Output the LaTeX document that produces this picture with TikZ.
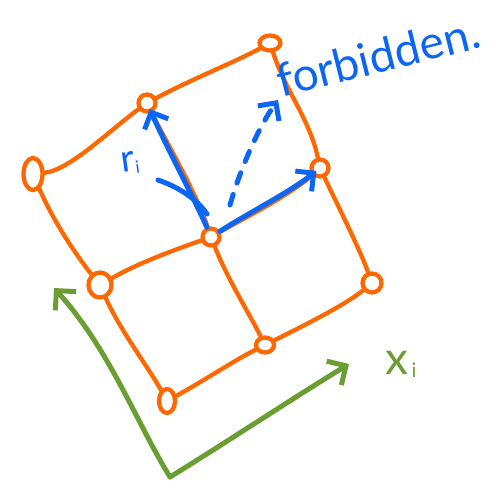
\documentclass[tikz,border=0pt]{standalone}
\usepackage{fontspec}
\setmainfont{Lato}
\usetikzlibrary{shapes.geometric,arrows.meta}
\definecolor{orng}{RGB}{255,104,0}
\definecolor{blu}{RGB}{12,102,245}
\definecolor{grn}{RGB}{106,158,50}
\begin{document}
\begin{tikzpicture}[x=1pt,y=-1pt,line cap=round,line join=round,
  site/.style={draw=orng,line width=4.3pt,ellipse,inner sep=0pt,minimum width=17pt,minimum height=17pt},
  bond/.style={draw=orng,line width=4.3pt},
  vec/.style={draw=blu,line width=5pt,-{Straight Barb[length=13pt,width=26pt]}},
  axis/.style={draw=grn,line width=5pt,-{Straight Barb[length=14pt,width=28pt]}},
  lbl/.style={inner sep=0pt}]
\useasboundingbox (0,0) rectangle (500,498);
% sites
\node[site,minimum width=19pt,minimum height=32pt] (A) at (33,174) {};
\node[site] (B) at (147,103) {};
\node[site,minimum width=21pt,minimum height=15pt] (C) at (270,43) {};
\node[site] (D) at (320,168) {};
\node[site] (E) at (211,237) {};
\node[site,minimum width=23pt,minimum height=25pt] (F) at (100,285) {};
\node[site,minimum width=19pt,minimum height=19pt] (G) at (372,283) {};
\node[site,minimum width=18pt,minimum height=15pt] (H) at (265,345) {};
\node[site,minimum width=16pt,minimum height=24pt] (I) at (167,401) {};
% bonds
\draw[bond] (A) .. controls (70,170) and (110,130) .. (B);
\draw[bond] (B) .. controls (190,80) and (235,62) .. (C);
\draw[bond] (A) .. controls (55,225) and (80,260) .. (F);
\draw[bond] (F) .. controls (140,262) and (180,248) .. (E);
\draw[bond] (E) .. controls (250,215) and (290,195) .. (D);
\draw[bond] (B) .. controls (165,140) and (195,190) .. (E);
\draw[bond] (C) .. controls (285,90) and (310,120) .. (D);
\draw[bond] (F) .. controls (120,330) and (150,370) .. (I);
\draw[bond] (E) .. controls (228,280) and (250,315) .. (H);
\draw[bond] (D) .. controls (340,210) and (360,250) .. (G);
\draw[bond] (I) .. controls (205,380) and (235,360) .. (H);
\draw[bond] (H) .. controls (305,325) and (345,305) .. (G);
% blue vectors
\draw[vec,shorten >=-4pt] (E) .. controls (195,200) and (168,150) .. (B);
\draw[vec,shorten >=-6pt] (E) .. controls (250,212) and (290,192) .. (D);
\coordinate (ds) at (230,205);
\coordinate (dt) at (278,100);
\draw[vec,dash pattern=on 11pt off 12pt] (ds) .. controls (240,170) and (258,128) .. (dt);
\coordinate (rl) at (158,180);
\coordinate (rm) at (207,214);
\draw[blu,line width=5pt] (rl) .. controls (178,187) and (196,198) .. (rm);
\node[lbl,text=blu,rotate=8] (rlab) at (130,163) {\fontsize{38}{38}\selectfont r\raisebox{-3pt}{\fontsize{17}{17}\selectfont i}};
\node[lbl,text=blu,rotate=14] (forb) at (378,56) {\fontsize{46}{46}\selectfont forbidden.};
% green axes
\coordinate (O) at (170,477);
\coordinate (ya) at (54,288);
\coordinate (xa) at (349,364);
\draw[axis] (O) .. controls (135,420) and (110,350) .. (ya);
\draw[axis] (O) .. controls (230,440) and (290,400) .. (xa);
\node[lbl,text=grn] (xlab) at (401,364) {\fontsize{46}{46}\selectfont x\hspace{3pt}\raisebox{-3pt}{\fontsize{20}{20}\selectfont i}};
\end{tikzpicture}
\end{document}
